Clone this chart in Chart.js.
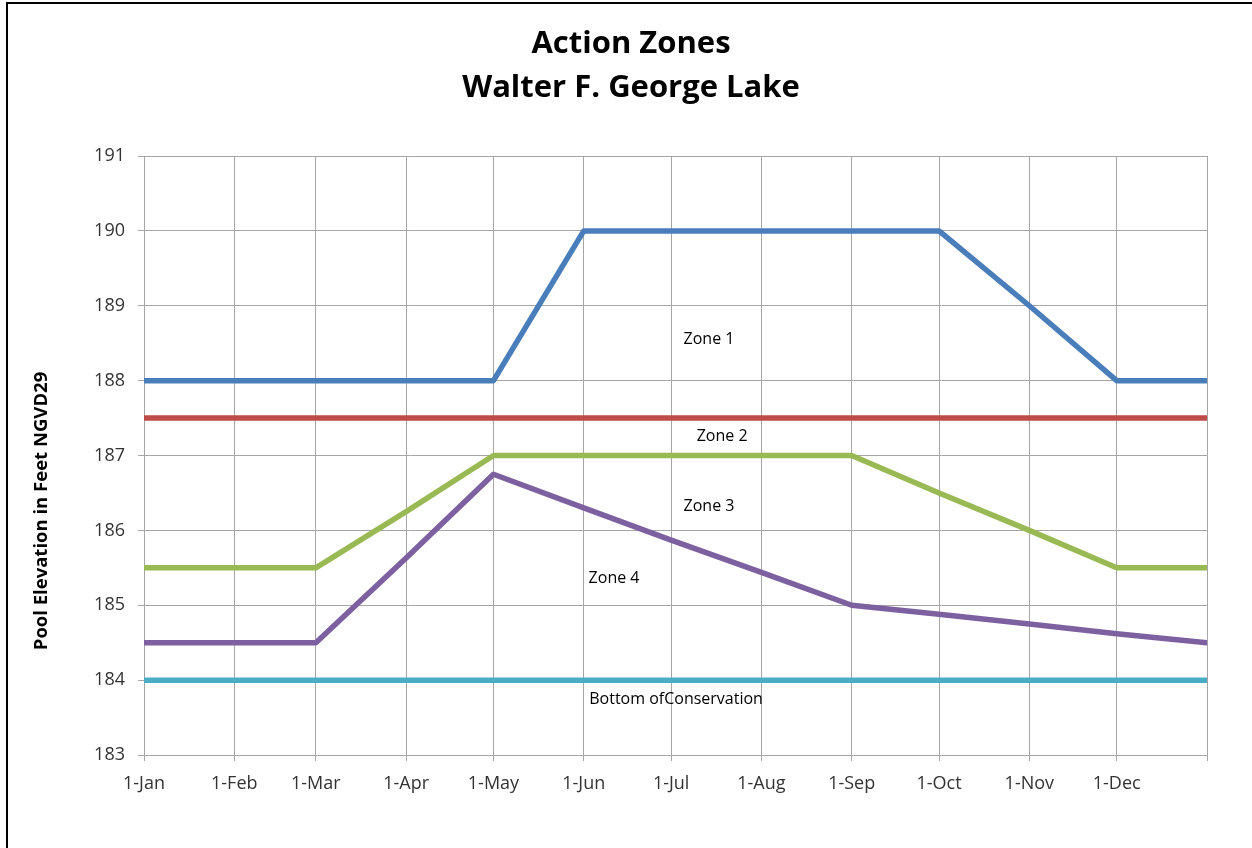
<!DOCTYPE html>
<html>
<head>
<meta charset="utf-8">
<title>Action Zones - Walter F. George Lake</title>
<script src="https://cdn.jsdelivr.net/npm/chart.js@4/dist/chart.umd.min.js"></script>
<style>
  html, body { margin: 0; padding: 0; background: #fff; }
  #wrap { position: relative; width: 1252px; height: 848px; overflow: hidden; }
  #frame { position: absolute; left: 6px; top: 2px; width: 1300px; height: 900px;
           border-top: 2px solid #000; border-left: 2px solid #000; box-sizing: border-box; }
  canvas { position: absolute; left: 0; top: 0; }
</style>
</head>
<body>
<div id="wrap">
  <div id="frame"></div>
  <canvas id="c" width="1252" height="848"></canvas>
</div>
<script>
// Day of year for the first of each month, plus the year end
const monthDays = [0, 31, 59, 90, 120, 151, 181, 212, 243, 273, 304, 334, 365];
const tickLabels = ['1-Jan', '1-Feb', '1-Mar', '1-Apr', '1-May', '1-Jun', '1-Jul',
                    '1-Aug', '1-Sep', '1-Oct', '1-Nov', '1-Dec', ''];

// Pool elevations (ft NGVD29) at each of the dates above
const zone1Top   = [188, 188, 188, 188, 188, 190, 190, 190, 190, 190, 189, 188, 188];
const zone2Top   = [187.5, 187.5, 187.5, 187.5, 187.5, 187.5, 187.5, 187.5, 187.5, 187.5, 187.5, 187.5, 187.5];
const zone3Top   = [185.5, 185.5, 185.5, 186.25, 187, 187, 187, 187, 187, 186.5, 186, 185.5, 185.5];
const zone4Top   = [184.5, 184.5, 184.5, 185.63, 186.75, 186.3, 185.87, 185.44, 185, 184.88, 184.75, 184.62, 184.5];
const bottomCons = [184, 184, 184, 184, 184, 184, 184, 184, 184, 184, 184, 184, 184];

const yTicks = [183, 184, 185, 186, 187, 188, 189, 190, 191];

// Zone captions: [text, day of year, elevation]
const zoneLabels = [
  ['Zone 1', 194, 188.55],
  ['Zone 2', 198.5, 187.25],
  ['Zone 3', 194, 186.32],
  ['Zone 4', 161.4, 185.36],
  ['Bottom ofConservation', 182.7, 183.74]
];

const toPoints = vals => vals.map((v, i) => ({ x: monthDays[i], y: v }));

const lineStyle = color => ({
  borderColor: color,
  backgroundColor: color,
  borderWidth: 5.5,
  pointRadius: 0,
  tension: 0,
  borderCapStyle: 'round',
  borderJoinStyle: 'round',
  fill: false
});

const datasets = [
  Object.assign({ label: 'Zone 1', data: toPoints(zone1Top) }, lineStyle('#4a7ebb')),
  Object.assign({ label: 'Zone 2', data: toPoints(zone2Top) }, lineStyle('#be4b48')),
  Object.assign({ label: 'Zone 3', data: toPoints(zone3Top) }, lineStyle('#98b954')),
  Object.assign({ label: 'Zone 4', data: toPoints(zone4Top) }, lineStyle('#7d60a0')),
  Object.assign({ label: 'Bottom of Conservation', data: toPoints(bottomCons) }, lineStyle('#4bacc6'))
];

const FONT = '"Open Sans", "Noto Sans", sans-serif';

// Titles, rotated axis caption and in-plot zone captions
const textPlugin = {
  id: 'chartText',
  afterDatasetsDraw(chart) {
    const ctx = chart.ctx;
    const xs = chart.scales.x, ys = chart.scales.y;
    ctx.save();
    ctx.fillStyle = '#000';
    ctx.textAlign = 'center';
    ctx.textBaseline = 'middle';
    ctx.font = 'bold 31px ' + FONT;
    ctx.fillText('Action Zones', 631, 44);
    ctx.fillText('Walter F. George Lake', 631, 88);

    ctx.font = '16px ' + FONT;
    zoneLabels.forEach(([t, d, v]) => {
      ctx.fillText(t, xs.getPixelForValue(d), ys.getPixelForValue(v));
    });

    ctx.translate(42, 511);
    ctx.rotate(-Math.PI / 2);
    ctx.font = 'bold 18.5px ' + FONT;
    ctx.fillText('Pool Elevation in Feet NGVD29', 0, 0);
    ctx.restore();
  }
};

new Chart(document.getElementById('c'), {
  type: 'line',
  data: { datasets },
  plugins: [textPlugin],
  options: {
    responsive: false,
    animation: false,
    layout: { padding: { left: 0, top: 156, right: 45, bottom: 0 } },
    plugins: { legend: { display: false }, tooltip: { enabled: false } },
    scales: {
      x: {
        type: 'linear',
        min: 0,
        max: 365,
        afterBuildTicks(scale) { scale.ticks = monthDays.map(v => ({ value: v })); },
        afterFit(scale) { scale.height = 93; },
        ticks: {
          autoSkip: false,
          maxRotation: 0,
          padding: 12,
          color: '#333',
          font: { family: FONT, size: 18 },
          callback: (v) => tickLabels[monthDays.indexOf(v)]
        },
        grid: { color: '#a6a6a6', lineWidth: 1, tickLength: 6 },
        border: { color: '#a6a6a6', width: 1 }
      },
      y: {
        type: 'linear',
        min: 183,
        max: 191,
        afterBuildTicks(scale) { scale.ticks = yTicks.map(v => ({ value: v })); },
        afterFit(scale) { scale.width = 144; },
        ticks: {
          padding: 13,
          color: '#333',
          font: { family: FONT, size: 18 }
        },
        grid: { color: '#a6a6a6', lineWidth: 1, tickLength: 6 },
        border: { color: '#a6a6a6', width: 1 }
      }
    }
  }
});
</script>
</body>
</html>
